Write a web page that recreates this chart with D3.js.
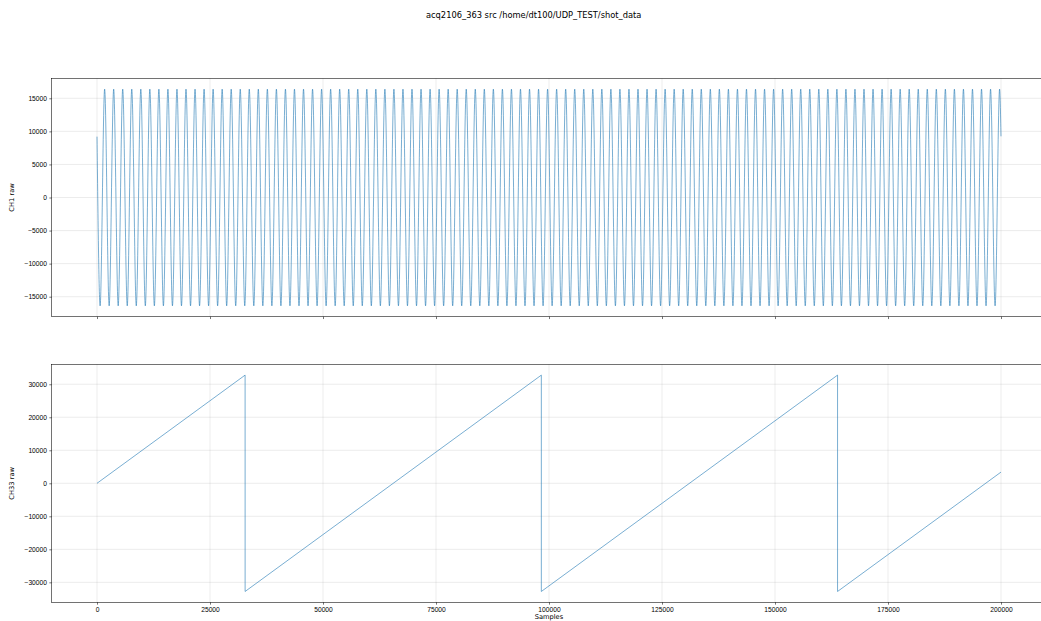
<!DOCTYPE html>
<html>
<head>
<meta charset="utf-8">
<script src="https://cdn.jsdelivr.net/npm/d3@7"></script>
<style>
  body { margin: 0; background: #fff; overflow: hidden; }
  svg { font-family: "DejaVu Sans", sans-serif; }
  .tick text { fill: #000; font-size: 6.7px; }
  .tick line { stroke: #000; stroke-width: 0.55; }
</style>
</head>
<body>
<div id="chartDiv"></div>
<script>
// ---- data ----
const titleText = "acq2106_363 src /home/dt100/UDP_TEST/shot_data";

// CH1: sine, sample index of every trough and peak
const ch1TroughSamples = [
  690, 2690, 4690, 6690, 8690, 10690, 12690, 14690, 16690, 18690,
  20690, 22690, 24690, 26690, 28690, 30690, 32690, 34690, 36690, 38690,
  40690, 42690, 44690, 46690, 48690, 50690, 52690, 54690, 56690, 58690,
  60690, 62690, 64690, 66690, 68690, 70690, 72690, 74690, 76690, 78690,
  80690, 82690, 84690, 86690, 88690, 90690, 92690, 94690, 96690, 98690,
  100690, 102690, 104690, 106690, 108690, 110690, 112690, 114690, 116690, 118690,
  120690, 122690, 124690, 126690, 128690, 130690, 132690, 134690, 136690, 138690,
  140690, 142690, 144690, 146690, 148690, 150690, 152690, 154690, 156690, 158690,
  160690, 162690, 164690, 166690, 168690, 170690, 172690, 174690, 176690, 178690,
  180690, 182690, 184690, 186690, 188690, 190690, 192690, 194690, 196690, 198690
];
const ch1PeakSamples = [
  1690, 3690, 5690, 7690, 9690, 11690, 13690, 15690, 17690, 19690,
  21690, 23690, 25690, 27690, 29690, 31690, 33690, 35690, 37690, 39690,
  41690, 43690, 45690, 47690, 49690, 51690, 53690, 55690, 57690, 59690,
  61690, 63690, 65690, 67690, 69690, 71690, 73690, 75690, 77690, 79690,
  81690, 83690, 85690, 87690, 89690, 91690, 93690, 95690, 97690, 99690,
  101690, 103690, 105690, 107690, 109690, 111690, 113690, 115690, 117690, 119690,
  121690, 123690, 125690, 127690, 129690, 131690, 133690, 135690, 137690, 139690,
  141690, 143690, 145690, 147690, 149690, 151690, 153690, 155690, 157690, 159690,
  161690, 163690, 165690, 167690, 169690, 171690, 173690, 175690, 177690, 179690,
  181690, 183690, 185690, 187690, 189690, 191690, 193690, 195690, 197690, 199690
];
const ch1TroughValue = -16384;
const ch1PeakValue = 16384;
const ch1EndSamples = [0, 199999];
const ch1EndValues = [9200, 9250];

// CH33: sawtooth corners
const ch33Samples = [0, 32767, 32768, 98303, 98304, 163839, 163840, 199999];
const ch33Values  = [0, 32767, -32768, 32767, -32768, 32767, -32768, 3391];

const xTicks = [0, 25000, 50000, 75000, 100000, 125000, 150000, 175000, 200000];
const ch1Ticks = [-15000, -10000, -5000, 0, 5000, 10000, 15000];
const ch33Ticks = [-30000, -20000, -10000, 0, 10000, 20000, 30000];

// ---- layout ----
const W = 1041, H = 621;
const tickLen = 2.35, tickPad = 2.35;
const panels = [
  { top: 78.3, bottom: 316.7, label: "CH1 raw", ticks: ch1Ticks, showX: false },
  { top: 364.3, bottom: 602.3, label: "CH33 raw", ticks: ch33Ticks, showX: true }
];
const axLeft = 51.7;

function buildCh1() {
  let pts = [];
  ch1EndSamples.forEach((s, i) => pts.push([s, ch1EndValues[i]]));
  ch1TroughSamples.forEach(s => pts.push([s, ch1TroughValue]));
  ch1PeakSamples.forEach(s => pts.push([s, ch1PeakValue]));
  return pts.sort((a, b) => a[0] - b[0]);
}
const ch1Points = buildCh1();
const ch33Points = ch33Samples.map((s, i) => [s, ch33Values[i]]);

// matplotlib style 5% margins
function padded(ext) {
  const d = (ext[1] - ext[0]) * 0.05;
  return [ext[0] - d, ext[1] + d];
}

const xDomain = padded([0, 199999]);
// 0 sits at x=97, 25000 at x=210
const pxPerSample = 113 / 25000;
const x0 = 97;
const xScale = d3.scaleLinear()
  .domain(xDomain)
  .range([x0 + xDomain[0] * pxPerSample, x0 + xDomain[1] * pxPerSample]);
const axRight = xScale.range()[1];

const svg = d3.select("#chartDiv").append("svg")
  .attr("width", W).attr("height", H);

svg.append("text")
  .attr("x", 533.7).attr("y", 15)
  .attr("text-anchor", "middle")
  .attr("dominant-baseline", "middle")
  .style("font-size", "8.3px")
  .text(titleText);

const series = [ch1Points, ch33Points];

panels.forEach((p, idx) => {
  const data = series[idx];
  const yScale = d3.scaleLinear()
    .domain(padded(d3.extent(data, d => d[1])))
    .range([p.bottom, p.top]);

  const g = svg.append("g");

  // grid
  g.append("g").selectAll("line").data(xTicks).join("line")
    .attr("x1", d => xScale(d)).attr("x2", d => xScale(d))
    .attr("y1", p.top).attr("y2", p.bottom)
    .attr("stroke", "#b0b0b0").attr("stroke-opacity", 0.3).attr("stroke-width", 0.8);
  g.append("g").selectAll("line").data(p.ticks).join("line")
    .attr("x1", axLeft).attr("x2", axRight)
    .attr("y1", d => yScale(d)).attr("y2", d => yScale(d))
    .attr("stroke", "#b0b0b0").attr("stroke-opacity", 0.3).attr("stroke-width", 0.8);

  // data line
  const lineFn = d3.line()
    .x(d => xScale(d[0]))
    .y(d => yScale(d[1]))
    .curve(idx === 0 ? d3.curveMonotoneX : d3.curveLinear);

  g.append("path")
    .datum(data)
    .attr("fill", "none")
    .attr("stroke", "#1f77b4")
    .attr("stroke-width", 0.6)
    .attr("d", lineFn);

  // axes
  const yAxis = d3.axisLeft(yScale).tickValues(p.ticks)
    .tickSize(tickLen).tickPadding(tickPad).tickFormat(d3.format("d"));
  g.append("g").attr("transform", `translate(${axLeft},0)`).call(yAxis)
    .call(a => a.select(".domain").remove());

  const xAxis = d3.axisBottom(xScale).tickValues(xTicks)
    .tickSize(tickLen).tickPadding(tickPad)
    .tickFormat(p.showX ? d3.format("d") : "");
  g.append("g").attr("transform", `translate(0,${p.bottom})`).call(xAxis)
    .call(a => a.select(".domain").remove());

  // spines
  g.append("rect")
    .attr("x", axLeft).attr("y", p.top)
    .attr("width", axRight - axLeft).attr("height", p.bottom - p.top)
    .attr("fill", "none").attr("stroke", "#000").attr("stroke-width", 0.55);

  // y label
  g.append("text")
    .attr("transform", `translate(11.7,${(p.top + p.bottom) / 2}) rotate(-90)`)
    .attr("text-anchor", "middle")
    .attr("dominant-baseline", "middle")
    .style("font-size", "6.7px")
    .text(p.label);

  if (p.showX) {
    g.append("text")
      .attr("x", (axLeft + axRight) / 2).attr("y", 614)
      .attr("text-anchor", "middle")
      .attr("dominant-baseline", "hanging")
      .style("font-size", "6.7px")
      .text("Samples");
  }
});
</script>
</body>
</html>
